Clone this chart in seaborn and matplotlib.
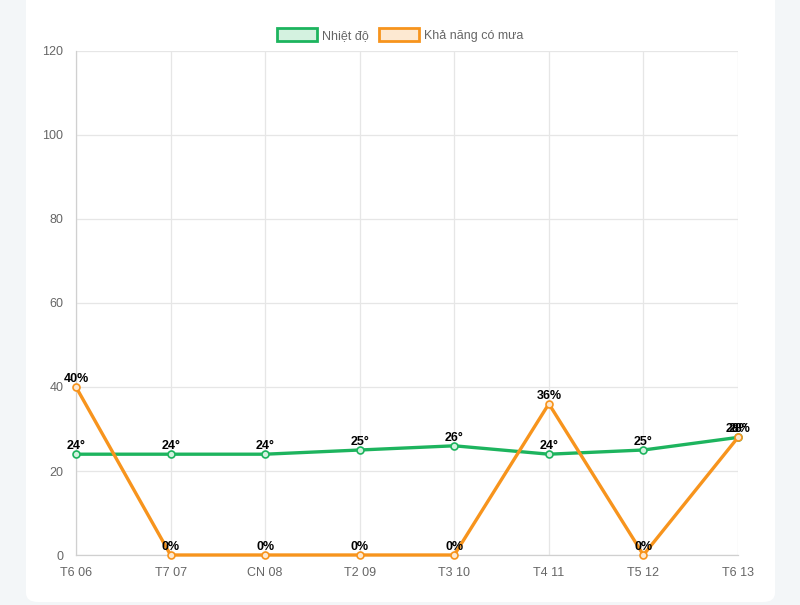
import matplotlib
matplotlib.use("Agg")
import matplotlib.pyplot as plt
from matplotlib.patches import FancyBboxPatch, Patch
import seaborn as sns
import pandas as pd

# du lieu doc tu hinh
ngay = ["T6 06", "T7 07", "CN 08", "T2 09", "T3 10", "T4 11", "T5 12", "T6 13"]
nhiet_do = [24, 24, 24, 25, 26, 24, 25, 28]
kha_nang_mua = [40, 0, 0, 0, 0, 36, 0, 28]

xanh = "#1db45e"
cam = "#f7941d"

df = pd.DataFrame({"ngay": ngay, "x": range(len(ngay)),
                   "nhiet": nhiet_do, "mua": kha_nang_mua})

sns.set_style("white")
plt.rcParams["font.family"] = ["Liberation Sans", "DejaVu Sans"]

fig = plt.figure(figsize=(8, 6.05), dpi=100)
fig.patch.set_facecolor("#f3f6f8")
# the trang (card)
the = FancyBboxPatch((26 / 800, 3 / 605), 749 / 800, 650 / 605,
                     boxstyle="round,pad=0,rounding_size=0.015",
                     transform=fig.transFigure, facecolor="white",
                     edgecolor="none", zorder=-1)
fig.patches.append(the)

ax = fig.add_axes([76 / 800, 50 / 605, 662 / 800, 504 / 605])
ax.set_zorder(2)
ax.set_facecolor("none")

sns.lineplot(data=df, x="x", y="nhiet", ax=ax, color=xanh, lw=2.4,
             marker="o", markersize=5, markerfacecolor="#d4f2e0",
             markeredgecolor=xanh, markeredgewidth=1.2, zorder=3)
sns.lineplot(data=df, x="x", y="mua", ax=ax, color=cam, lw=2.4,
             marker="o", markersize=5, markerfacecolor="#fde9d2",
             markeredgecolor=cam, markeredgewidth=1.2, zorder=3)

# nhan gia tri tren moi diem
for i in range(len(ngay)):
    ax.annotate(f"{nhiet_do[i]}°", (i, nhiet_do[i]), xytext=(0, 1.5),
                textcoords="offset points", ha="center", va="bottom",
                fontsize=9, fontweight="bold", color="black", zorder=5,
                annotation_clip=False)
    ax.annotate(f"{kha_nang_mua[i]}%", (i, kha_nang_mua[i]), xytext=(0, 1.5),
                textcoords="offset points", ha="center", va="bottom",
                fontsize=9, fontweight="bold", color="black", zorder=5,
                annotation_clip=False)

ax.set_xlim(0, len(ngay) - 1)
ax.set_ylim(0, 120)
ax.set_xticks(range(len(ngay)))
ax.set_xticklabels(ngay)
ax.set_yticks(range(0, 121, 20))
ax.set_xlabel("")
ax.set_ylabel("")
ax.grid(True, color="#e6e6e6", lw=0.9)
ax.tick_params(axis="both", colors="#666666", labelsize=9, length=6,
               width=0.9, pad=3)
ax.tick_params(axis="both", color="#e0e0e0")
for s in ["top", "right"]:
    ax.spines[s].set_visible(False)
for s in ["left", "bottom"]:
    ax.spines[s].set_color("#d0d0d0")
    ax.spines[s].set_linewidth(0.9)
for ln in ax.lines:
    ln.set_clip_on(False)

chu_thich = [Patch(facecolor="#d4f2e0", edgecolor=xanh, lw=2, label="Nhiệt độ"),
             Patch(facecolor="#fde9d2", edgecolor=cam, lw=2, label="Khả năng có mưa")]
fig.legend(handles=chu_thich, loc="center", bbox_to_anchor=(400 / 800, 1 - 35 / 605),
           ncol=2, frameon=False, fontsize=9, labelcolor="#666666",
           handlelength=3.2, handleheight=1.2, handletextpad=0.4, columnspacing=0.8)

fig.savefig("out.png", dpi=100, facecolor=fig.get_facecolor())
